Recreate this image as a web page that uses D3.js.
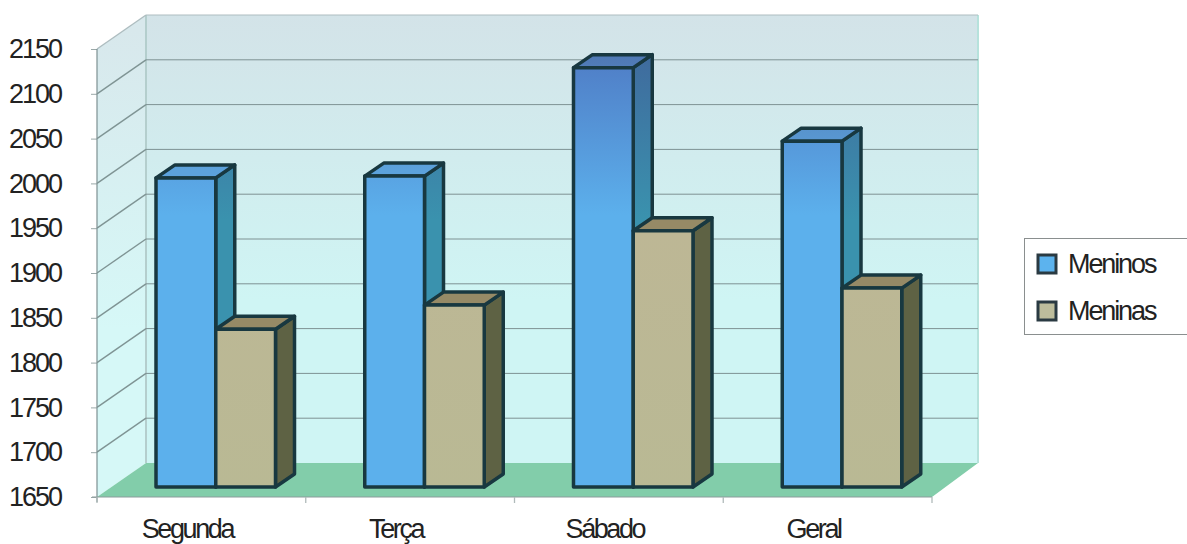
<!DOCTYPE html>
<head>
  <meta charset="utf-8">
  <script src="https://d3js.org/d3.v7.min.js"></script>
  <style>
    body { margin:0; background:#fff; overflow:hidden; }
    svg { display:block; font-family:"Liberation Sans", Arial, sans-serif; }
    .axis path { display:none; }
    .axis text { font-size:27px; fill:#222; letter-spacing:-2px; }
  </style>
</head>

<body>
  <svg width="1187" height="544"></svg>
  <script>
    var categories = ['Segunda', 'Terça', 'Sábado', 'Geral'];
    var meninos = [1995, 1997, 2118, 2036];
    var meninas = [1826, 1853, 1936, 1872];
    var seriesNames = ['Meninos', 'Meninas'];
    var yTicks = [1650, 1700, 1750, 1800, 1850, 1900, 1950, 2000, 2050, 2100, 2150];

    var svg = d3.select('svg');
    var defs = svg.append('defs');

    var xScale = d3.scaleBand().domain(categories).range([97, 932]);
    var yScale = d3.scaleLinear().domain([1650, 2150]).range([497, 49]);
    var inner = d3.scaleBand().domain([0, 1]).range([59, 178.5]);

    // oblique projection: how far the back wall sits from the front plane
    var wall = {dx: 49, dy: -34, right: 46};
    var bar = {dx: 19, dy: -13, shiftY: -10};

    function gradient(id, y1, y2, from, to) {
      var g = defs.append('linearGradient').attr('id', id)
        .attr('gradientUnits', 'userSpaceOnUse')
        .attr('x1', 0).attr('x2', 0).attr('y1', y1).attr('y2', y2);
      g.append('stop').attr('offset', 0).attr('stop-color', from);
      g.append('stop').attr('offset', 1).attr('stop-color', to);
    }
    gradient('wallFill', 15, 300, '#d3e3e8', '#cff5f4');
    gradient('sideFill', 30, 330, '#d8e8ec', '#d6f8f7');
    gradient('boyFront', 65, 215, '#5080c8', '#5cb0ec');
    gradient('boySide', 60, 220, '#3f6c9e', '#3a92ae');
    gradient('boyTop', 55, 170, '#4f78b4', '#5ca2dc');
    gradient('girlFront', 230, 490, '#bdb795', '#b9b994');

    var x0 = xScale.range()[0], x1 = xScale.range()[1];
    var yBottom = yScale(1650), yTop = yScale(2150);

    function pts(a) { return a.map(function(p) { return p.join(','); }).join(' '); }

    // walls and floor
    svg.append('polygon')
      .attr('points', pts([[x0 + wall.dx, yTop + wall.dy], [x1 + wall.right, yTop + wall.dy], [x1 + wall.right, yBottom + wall.dy], [x0 + wall.dx, yBottom + wall.dy]]))
      .attr('fill', 'url(#wallFill)');
    svg.append('polygon')
      .attr('points', pts([[x0, yTop], [x0 + wall.dx, yTop + wall.dy], [x0 + wall.dx, yBottom + wall.dy], [x0, yBottom]]))
      .attr('fill', 'url(#sideFill)');
    svg.append('polygon')
      .attr('points', pts([[x0, yBottom], [x1, yBottom], [x1 + wall.right, yBottom + wall.dy], [x0 + wall.dx, yBottom + wall.dy]]))
      .attr('fill', '#82cdaa');

    // wall edges
    svg.append('line').attr('x1', x0 + wall.dx).attr('x2', x0 + wall.dx)
      .attr('y1', yTop + wall.dy).attr('y2', yBottom + wall.dy)
      .attr('stroke', '#b4cecd').attr('stroke-width', 2);
    svg.append('line').attr('x1', x1 + wall.right).attr('x2', x1 + wall.right)
      .attr('y1', yTop + wall.dy).attr('y2', yBottom + wall.dy)
      .attr('stroke', '#b6e2dc').attr('stroke-width', 2);

    // gridlines, back wall and side wall
    var grid = svg.append('g');
    grid.selectAll('.back').data(yTicks.slice(1)).enter().append('line')
      .attr('x1', x0 + wall.dx).attr('x2', x1 + wall.right)
      .attr('y1', function(d) { return yScale(d) + wall.dy; })
      .attr('y2', function(d) { return yScale(d) + wall.dy; })
      .attr('stroke', d => d === 2150 ? '#aebdc0' : '#7e9293').attr('stroke-width', 1);
    grid.selectAll('.side').data(yTicks.slice(1)).enter().append('line')
      .attr('x1', x0).attr('x2', x0 + wall.dx)
      .attr('y1', function(d) { return yScale(d); })
      .attr('y2', function(d) { return yScale(d) + wall.dy; })
      .attr('stroke', d => d === 2150 ? '#aebdc0' : '#7f9494').attr('stroke-width', 1.4);

    // bars
    var styles = [
      {front: 'url(#boyFront)', side: 'url(#boySide)', top: 'url(#boyTop)'},
      {front: 'url(#girlFront)', side: '#5e6244', top: '#968a66'}
    ];
    var ink = '#183840';
    categories.forEach(function(c, i) {
      [meninos[i], meninas[i]].forEach(function(v, s) {
        var left = xScale(c) + inner(s);
        var right = left + inner.bandwidth();
        var top = yScale(v) + bar.shiftY;
        var base = yScale(1650) + bar.shiftY;
        var g = svg.append('g')
          .attr('stroke', ink).attr('stroke-width', 3.5).attr('stroke-linejoin', 'round');
        g.append('polygon')
          .attr('points', pts([[right, top], [right + bar.dx, top + bar.dy], [right + bar.dx, base + bar.dy], [right, base]]))
          .attr('fill', styles[s].side);
        g.append('polygon')
          .attr('points', pts([[left, top], [left + bar.dx, top + bar.dy], [right + bar.dx, top + bar.dy], [right, top]]))
          .attr('fill', styles[s].top);
        g.append('rect')
          .attr('x', left).attr('y', top)
          .attr('width', right - left).attr('height', base - top)
          .attr('fill', styles[s].front);
      });
    });

    // axes
    var yAxis = d3.axisLeft(yScale).tickValues(yTicks).tickSize(6).tickPadding(30).tickFormat(d3.format('d'));
    var yG = svg.append('g').attr('class', 'axis').attr('transform', 'translate(' + x0 + ',0)').call(yAxis);
    yG.selectAll('line').attr('stroke', '#9aa8a8');
    svg.append('line').attr('x1', x0).attr('x2', x0).attr('y1', yTop).attr('y2', yBottom + 5)
      .attr('stroke', '#7d9092').attr('stroke-width', 1.2);

    var xAxis = d3.axisBottom(xScale).tickSize(0).tickPadding(33);
    var xG = svg.append('g').attr('class', 'axis').attr('transform', 'translate(0,' + yBottom + ')').call(xAxis);
    xG.selectAll('text').attr('dx', -14).attr('dy', '0.3em').style('letter-spacing', '-2.4px');
    xG.selectAll('line').remove();
    svg.append('line').attr('x1', x0 - 5).attr('x2', x1).attr('y1', yBottom).attr('y2', yBottom)
      .attr('stroke', '#8c9c9c').attr('stroke-width', 1.2);
    svg.selectAll('.xtick').data(categories).enter().append('line')
      .attr('x1', function(d) { return xScale(d); }).attr('x2', function(d) { return xScale(d); })
      .attr('y1', yBottom).attr('y2', yBottom + 6)
      .attr('stroke', '#b0baba').attr('stroke-width', 1.3);
    svg.append('line').attr('x1', x1).attr('x2', x1).attr('y1', yBottom).attr('y2', yBottom + 6)
      .attr('stroke', '#b0baba').attr('stroke-width', 1.3);

    // legend
    var legend = svg.append('g').attr('transform', 'translate(1024,238)');
    legend.append('rect').attr('x', 0.5).attr('y', 0.5).attr('width', 170).attr('height', 96)
      .attr('fill', '#fff').attr('stroke', '#8a8f8f').attr('stroke-width', 1);
    seriesNames.forEach(function(name, i) {
      var row = legend.append('g').attr('transform', 'translate(14,' + (17 + i * 47) + ')');
      row.append('rect').attr('width', 18).attr('height', 18)
        .attr('fill', i === 0 ? '#5cb3ee' : '#bdbd9c')
        .attr('stroke', '#2a3a42').attr('stroke-width', 3);
      row.append('text').attr('x', 30).attr('y', 18)
        .attr('font-size', 27).attr('letter-spacing', '-2.1px').attr('fill', '#222')
        .text(name);
    });
  </script>
</body>
